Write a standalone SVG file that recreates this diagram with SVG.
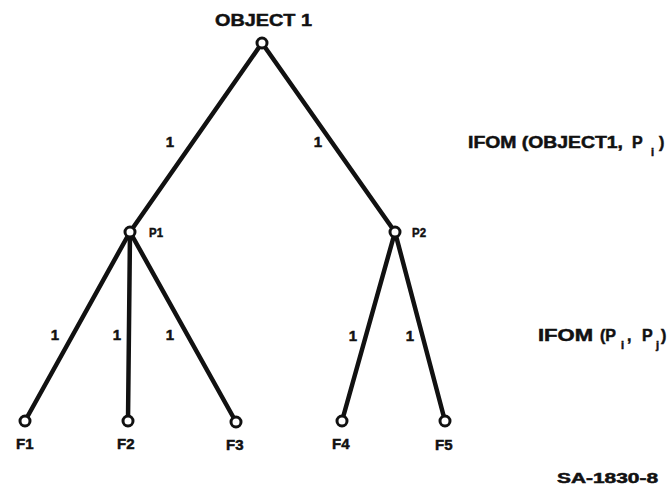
<svg xmlns="http://www.w3.org/2000/svg" width="668" height="489" viewBox="0 0 668 489">
<style>
text{font-family:"Liberation Sans",Arial,sans-serif;font-weight:bold;fill:#111;stroke:#111;stroke-width:0.5}
.e{stroke:#111;stroke-width:4.5;stroke-linecap:round;fill:none}
.n{fill:#fff;stroke:#111;stroke-width:3}
.lab{font-size:15px}
.one{font-size:15px;text-anchor:middle}
.sub{font-size:11px}
</style>
<rect width="668" height="489" fill="#fff"/>
<g id="connectors">
<line class="e" x1="262" y1="43" x2="130" y2="232"/>
<line class="e" x1="262" y1="43" x2="395" y2="232"/>
<line class="e" x1="130" y1="232" x2="25" y2="421"/>
<line class="e" x1="130" y1="232" x2="128" y2="421"/>
<line class="e" x1="130" y1="232" x2="236" y2="422"/>
<line class="e" x1="395" y1="232" x2="342" y2="421"/>
<line class="e" x1="395" y1="232" x2="445" y2="421"/>
<text class="one" x="170" y="147">1</text>
<text class="one" x="318" y="147">1</text>
<text class="one" x="55" y="340">1</text>
<text class="one" x="117" y="340">1</text>
<text class="one" x="170" y="340">1</text>
<text class="one" x="353" y="341">1</text>
<text class="one" x="410" y="341">1</text>
</g>
<g id="object1">
<circle class="n" cx="262" cy="43" r="5"/>
<text x="215" y="26" font-size="17" textLength="97" lengthAdjust="spacingAndGlyphs">OBJECT 1</text>
</g>
<g id="p1">
<circle class="n" cx="130" cy="232" r="5"/>
<text x="149" y="237" font-size="13" textLength="14" lengthAdjust="spacingAndGlyphs">P1</text>
</g>
<g id="p2">
<circle class="n" cx="395" cy="232" r="5"/>
<text x="412" y="237" font-size="13" textLength="14" lengthAdjust="spacingAndGlyphs">P2</text>
</g>
<g id="f1"><circle class="n" cx="25" cy="421" r="5"/><text class="lab" x="16" y="449">F1</text></g>
<g id="f2"><circle class="n" cx="128" cy="421" r="5"/><text class="lab" x="117" y="449">F2</text></g>
<g id="f3"><circle class="n" cx="236" cy="422" r="5"/><text class="lab" x="226" y="450">F3</text></g>
<g id="f4"><circle class="n" cx="342" cy="421" r="5"/><text class="lab" x="332" y="449">F4</text></g>
<g id="f5"><circle class="n" cx="445" cy="421" r="5"/><text class="lab" x="435" y="450">F5</text></g>
<g id="labels">
<text font-size="16" y="148"><tspan x="468" textLength="155" lengthAdjust="spacingAndGlyphs">IFOM (OBJECT1,</tspan><tspan x="632">P</tspan></text>
<text class="sub" x="651" y="156">i</text>
<text font-size="16" x="659" y="148">)</text>
<text font-size="16" y="341"><tspan x="538" textLength="55" lengthAdjust="spacingAndGlyphs">IFOM</tspan><tspan x="600">(P</tspan></text>
<text class="sub" x="621" y="349">i</text>
<text font-size="16" x="627" y="341">,</text>
<text font-size="16" x="642" y="341">P</text>
<text class="sub" x="656" y="349">j</text>
<text font-size="16" x="661" y="341">)</text>
<text x="557" y="483" font-size="14" textLength="101" lengthAdjust="spacingAndGlyphs">SA-1830-8</text>
</g>
</svg>
